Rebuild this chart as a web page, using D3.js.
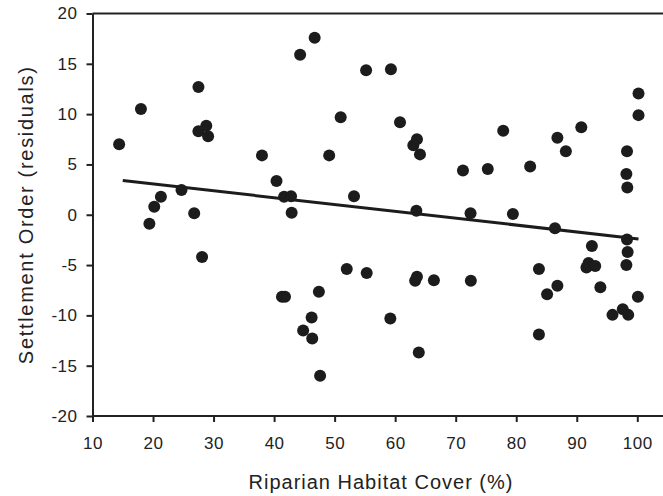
<!doctype html>
<html lang='en'>
<head>
    <meta charset='UTF-8'>
    <title>Settlement order vs riparian cover</title>
    <style>
        body,html{
            margin: 0;
            padding: 0;
            background: #fff;
            font-family: Arial, 'Liberation Sans', sans-serif;
        }
        .axis path,
        .axis line{
            fill: none;
            stroke: #222;
            stroke-width: 2px;
        }
        .axis text{
            fill: #222;
            font-size: 17px;
            letter-spacing: 0.5px;
        }
        .dot{
            fill: #1c1c1c;
        }
        .fit{
            fill: none;
            stroke: #1c1c1c;
            stroke-width: 3px;
        }
        .title{
            fill: #222;
            font-size: 20px;
            letter-spacing: 1px;
            text-anchor: middle;
        }
        .title.y-title{
            letter-spacing: 1.7px;
        }
    </style>
</head>
<body>
<script src='https://d3js.org/d3.v7.min.js'></script>
<script>
  // riparian habitat cover (%)
  const cover = [
    14.4, 18.0, 19.4, 20.2, 21.3, 24.7, 26.8, 27.5, 27.5, 28.8,
    29.1, 28.1, 38.0, 40.4, 41.65, 42.8, 42.9, 41.3, 41.8, 44.3,
    46.7, 44.8, 46.2, 46.3, 47.4, 47.6, 49.1, 51.0, 52.0, 53.2,
    55.2, 55.3, 59.3, 59.2, 60.8, 63.0, 63.6, 64.1, 63.5, 63.6,
    63.3, 63.9, 66.4, 71.2, 72.45, 72.5, 75.3, 77.85, 79.45, 82.3,
    83.75, 83.75, 85.1, 86.4, 86.8, 86.8, 88.2, 90.75, 91.95, 91.6,
    92.5, 93.05, 93.9, 95.9, 97.6, 98.5, 98.3, 98.2, 98.35, 98.3,
    98.4, 98.2, 100.2, 100.2, 100.1
  ]
  // settlement order residuals
  const residual = [
    7.0, 10.5, -0.9, 0.8, 1.8, 2.45, 0.15, 12.7, 8.3, 8.85,
    7.8, -4.2, 5.9, 3.35, 1.8, 1.85, 0.2, -8.15, -8.15, 15.9,
    17.6, -11.5, -10.2, -12.3, -7.65, -16.0, 5.9, 9.7, -5.4, 1.85,
    14.35, -5.8, 14.45, -10.3, 9.2, 6.9, 7.5, 6.0, 0.4, -6.15,
    -6.55, -13.7, -6.5, 4.4, 0.14, -6.55, 4.55, 8.35, 0.07, 4.8,
    -5.4, -11.9, -7.9, -1.35, 7.65, -7.05, 6.3, 8.7, -4.8, -5.25,
    -3.1, -5.1, -7.2, -9.95, -9.4, -9.95, 6.3, 4.05, 2.7, -2.45,
    -3.7, -5.0, 12.05, 9.9, -8.15
  ]
  // fitted regression line end points
  const fitX = [15, 100.2]
  const fitY = [3.4, -2.4]

  const xTicks = [10, 20, 30, 40, 50, 60, 70, 80, 90, 100]
  const yTicks = [-20, -15, -10, -5, 0, 5, 10, 15, 20]

  const w = 663
  const h = 496
  const margin = {top: 13.5, left: 92.5}
  const height = 402.5

  const x = d3.scaleLinear()
    .domain([10, 100])
    .range([0, 544.8])

  const y = d3.scaleLinear()
    .domain([-20, 20])
    .range([height, 0])

  const svg = d3.select('body').append('svg')
    .attr('width', w)
    .attr('height', h)

  const chart = svg.append('g')
    .attr('transform', `translate(${margin.left}, ${margin.top})`)

  // frame top line (runs off the right edge)
  chart.append('line')
    .attr('x1', 0)
    .attr('x2', x(106))
    .attr('y1', y(20))
    .attr('y2', y(20))
    .style('stroke', '#222')
    .style('stroke-width', 2)

  chart.append('g')
    .classed('x axis', true)
    .attr('transform', `translate(0, ${height})`)
    .call(d3.axisBottom(x).tickValues(xTicks).tickSize(6).tickSizeOuter(0).tickPadding(15))
    .select('.domain')
    .attr('d', `M0,0H${x(106)}`)

  chart.append('g')
    .classed('y axis', true)
    .call(d3.axisLeft(y).tickValues(yTicks).tickSize(6).tickSizeOuter(0).tickPadding(9)
      .tickFormat(d => d < 0 ? '-' + Math.abs(d) : d))

  // regression line
  chart.append('path')
    .datum(fitX.map((v, i) => [v, fitY[i]]))
    .classed('fit', true)
    .attr('d', d3.line().x(d => x(d[0])).y(d => y(d[1])))

  chart.selectAll('.dot')
    .data(cover.map((v, i) => ({x: v, y: residual[i]})))
    .enter()
    .append('circle')
    .classed('dot', true)
    .attr('cx', d => x(d.x))
    .attr('cy', d => y(d.y))
    .attr('r', 6)

  svg.append('text')
    .classed('title', true)
    .attr('x', 381)
    .attr('y', 489)
    .text('Riparian Habitat Cover (%)')

  svg.append('text')
    .classed('title y-title', true)
    .attr('transform', `translate(33, ${margin.top + y(0)}) rotate(-90)`)
    .text('Settlement Order (residuals)')
</script>
</body>
</html>
